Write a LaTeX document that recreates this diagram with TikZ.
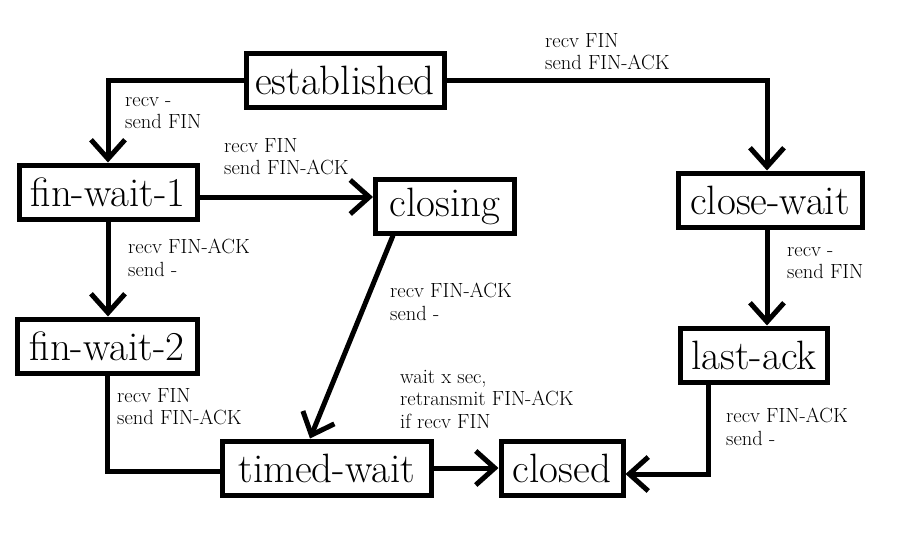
\documentclass[tikz,border=0pt]{standalone}
\usepackage{fontspec}
\usetikzlibrary{arrows.meta}

\begin{document}
\begin{tikzpicture}[x=1pt,y=-1pt,
  state/.style={draw,line width=5pt,inner xsep=6pt,inner ysep=0pt,
    minimum height=54pt,font=\fontsize{41}{46}\selectfont},
  link/.style={line width=5pt},
  arr/.style={link,-{Straight Barb[length=19pt,width=34pt,line width=5pt]}},
  cond/.style={anchor=north west,inner sep=0pt,align=left,
    font=\fontsize{20.5}{22.5}\selectfont}]
\useasboundingbox (0,0) rectangle (907,539);

% states
\node[state,minimum width=198pt] (est) at (345,80) {established};
\node[state,minimum width=178pt] (fw1) at (108,192) {fin-wait-1};
\node[state,minimum width=139pt] (closing) at (445,206) {closing};
\node[state,minimum width=184pt] (cw) at (770,200) {close-wait};
\node[state,minimum width=180pt] (fw2) at (107,346) {fin-wait-2};
\node[state,minimum width=147pt] (lack) at (754,355) {last-ack};
\node[state,minimum width=209pt] (tw) at (327,468) {timed-wait};
\node[state,minimum width=122pt] (closed) at (562,468) {closed};

% transitions
\draw[arr] (est.west) -| (fw1.north);
\draw[arr] (est.east) -| ([xshift=-3pt]cw.north);
\draw[arr] ([yshift=-5pt]fw1.east) -- ([yshift=-5pt]fw1.east -| closing.west);
\draw[arr] (fw1.south) -- (fw1.south |- fw2.north);
\draw[arr] ([xshift=-52pt]closing.south) -- ([xshift=-17pt]tw.north);
\draw[arr] ([xshift=-3pt]cw.south) -- ([xshift=-3pt]cw.south |- lack.north);
\draw[link] (fw2.south) |- ([yshift=-3pt]tw.west);
\draw[arr] (tw.east) -- (closed.west);
\draw[arr] ([xshift=-46pt]lack.south) |- ([yshift=-6pt]closed.east);

% labels
\node[cond] (c1) at (125,97) {recv -\\send FIN};
\node[cond] (c2) at (224,138) {recv FIN\\send FIN-ACK};
\node[cond] (c3) at (545,33) {recv FIN\\send FIN-ACK};
\node[cond] (c4) at (128,239) {recv FIN-ACK\\send -};
\node[cond] (c5) at (390,283) {recv FIN-ACK\\send -};
\node[cond] (c6) at (787,247) {recv -\\send FIN};
\node[cond] (c7) at (117,388) {recv FIN\\send FIN-ACK};
\node[cond] (c8) at (400,370) {wait x sec,\\retransmit FIN-ACK\\if recv FIN};
\node[cond] (c9) at (726,408) {recv FIN-ACK\\send -};
\end{tikzpicture}
\end{document}
